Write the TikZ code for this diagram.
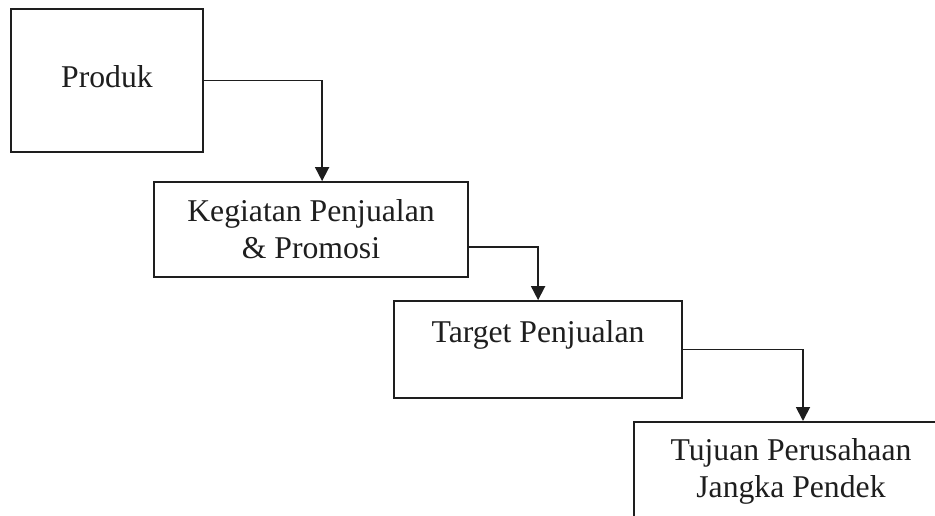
\documentclass[tikz,border=0pt]{standalone}
\usepackage{fontspec}
\setmainfont{Liberation Serif}
\usetikzlibrary{arrows.meta}
\definecolor{ink}{HTML}{1E1E1E}
\begin{document}
\begin{tikzpicture}[x=1pt,y=-1pt,
  box/.style={draw=ink,line width=1.8pt,rectangle,inner sep=0pt},
  lbl/.style={inner sep=0pt,text=ink,align=center,font=\fontsize{31.7}{36.5}\selectfont},
  arr/.style={draw=ink,line width=1.8pt,-{Triangle[width=14pt,length=14pt]}}]
\clip (0,0) rectangle (935,515);
\fill[white] (0,0) rectangle (935,515);
\node[box,minimum width=192pt,minimum height=143pt] (prod) at (107,80.5) {};
\node[box,minimum width=314pt,minimum height=95pt] (keg) at (311,229.5) {};
\node[box,minimum width=288pt,minimum height=97pt] (targ) at (538,349.5) {};
\node[box,minimum width=316pt,minimum height=100pt,anchor=north west] (tuj) at (633,421) {};
\node[lbl,anchor=base] (prodT) at (107,87) {Produk};
\node[lbl,anchor=base] (kegT) at (311,258) {Kegiatan Penjualan\\\& Promosi};
\node[lbl,anchor=base] (targT) at (538,342) {Target Penjualan};
\node[lbl,anchor=base] (tujT) at (791,497) {Tujuan Perusahaan\\Jangka Pendek};
\draw[arr] (prod.east) -| ([xshift=169pt]keg.north west);
\draw[arr] ([yshift=-17.5pt]keg.east) -| ([xshift=145pt]targ.north west);
\draw[arr] (targ.east) -| ([xshift=170pt]tuj.north west);
\end{tikzpicture}
\end{document}
